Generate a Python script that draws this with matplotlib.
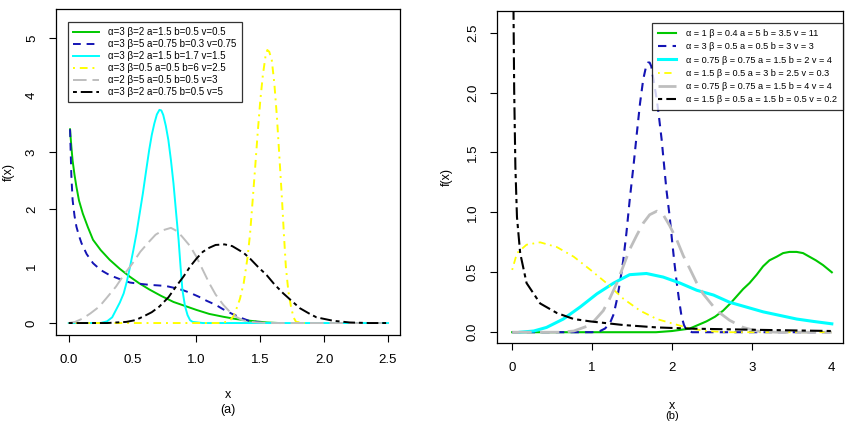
import matplotlib
matplotlib.use("Agg")
import matplotlib.pyplot as plt

plt.rcParams['font.family'] = ['Liberation Sans', 'DejaVu Sans']

# ---------------- Panel (a) data ----------------
a_green_x = [0.01, 0.02, 0.03, 0.045, 0.06, 0.08, 0.11, 0.15, 0.19, 0.25, 0.32, 0.40, 0.48, 0.55,
             0.63, 0.72, 0.82, 0.91, 1.00, 1.10, 1.21, 1.31, 1.42, 1.55, 1.65]
a_green_y = [3.40, 3.10, 2.85, 2.60, 2.39, 2.15, 1.92, 1.68, 1.46, 1.28, 1.11, 0.95, 0.81, 0.70,
             0.59, 0.48, 0.37, 0.30, 0.23, 0.16, 0.11, 0.07, 0.04, 0.01, 0.0]

a_blue_x = [0.01, 0.02, 0.03, 0.045, 0.06, 0.08, 0.10, 0.14, 0.19, 0.25, 0.32, 0.40, 0.48, 0.55,
            0.63, 0.70, 0.76, 0.82, 0.89, 0.95, 1.02, 1.08, 1.15, 1.21, 1.28, 1.35, 1.41, 1.47,
            1.52, 1.60]
a_blue_y = [3.40, 2.60, 2.16, 1.88, 1.69, 1.53, 1.40, 1.21, 1.05, 0.93, 0.84, 0.77, 0.71, 0.69,
            0.67, 0.66, 0.65, 0.62, 0.58, 0.53, 0.46, 0.39, 0.32, 0.24, 0.16, 0.09, 0.04, 0.02,
            0.0, 0.0]

a_cyan_x = [0.0, 0.25, 0.30, 0.34, 0.37, 0.40, 0.43, 0.455, 0.48, 0.505, 0.53, 0.555, 0.58, 0.605,
            0.63, 0.65, 0.67, 0.69, 0.71, 0.725, 0.74, 0.76, 0.78, 0.80, 0.82, 0.84, 0.86, 0.875,
            0.89, 0.91, 0.93, 0.95, 0.97, 1.05, 2.5]
a_cyan_y = [0.0, 0.0, 0.03, 0.10, 0.23, 0.36, 0.52, 0.73, 0.99, 1.27, 1.57, 1.92, 2.27, 2.66,
            3.04, 3.30, 3.50, 3.66, 3.74, 3.73, 3.65, 3.46, 3.21, 2.86, 2.45, 1.95, 1.46, 1.00,
            0.58, 0.30, 0.14, 0.05, 0.02, 0.0, 0.0]

a_yellow_x = [0.0, 1.20, 1.26, 1.29, 1.31, 1.34, 1.37, 1.40, 1.42, 1.44, 1.46, 1.48, 1.50, 1.52,
              1.54, 1.555, 1.57, 1.59, 1.61, 1.63, 1.65, 1.67, 1.685, 1.70, 1.72, 1.74, 1.76,
              1.78, 1.85]
a_yellow_y = [0.0, 0.0, 0.04, 0.12, 0.23, 0.42, 0.70, 1.15, 1.57, 2.15, 2.74, 3.35, 3.91, 4.35,
              4.67, 4.79, 4.76, 4.61, 4.20, 3.62, 2.90, 2.16, 1.55, 0.99, 0.55, 0.29, 0.10,
              0.02, 0.0]

a_gray_x = [0.0, 0.05, 0.11, 0.17, 0.24, 0.30, 0.37, 0.43, 0.50, 0.56, 0.63, 0.68, 0.74, 0.80,
            0.85, 0.89, 0.95, 1.00, 1.05, 1.10, 1.15, 1.21, 1.26, 1.31, 1.36, 1.42, 1.55, 2.5]
a_gray_y = [0.0, 0.02, 0.08, 0.17, 0.29, 0.45, 0.64, 0.84, 1.05, 1.25, 1.43, 1.55, 1.63, 1.67,
            1.61, 1.51, 1.35, 1.16, 0.93, 0.70, 0.50, 0.32, 0.20, 0.11, 0.05, 0.02, 0.0, 0.0]

a_black_x = [0.0, 0.30, 0.45, 0.52, 0.58, 0.65, 0.71, 0.78, 0.84, 0.90, 0.95, 1.00, 1.05, 1.10,
             1.15, 1.22, 1.28, 1.31, 1.37, 1.42, 1.48, 1.55, 1.61, 1.68, 1.75, 1.81, 1.88, 1.94,
             2.07, 2.20, 2.35, 2.5]
a_black_y = [0.0, 0.0, 0.02, 0.05, 0.11, 0.19, 0.29, 0.45, 0.64, 0.82, 0.99, 1.13, 1.25, 1.32,
             1.37, 1.38, 1.35, 1.31, 1.23, 1.13, 0.99, 0.84, 0.68, 0.52, 0.38, 0.26, 0.17, 0.10,
             0.04, 0.01, 0.0, 0.0]

a_labels = ["α=3 β=2 a=1.5 b=0.5 v=0.5",
            "α=3 β=5 a=0.75 b=0.3 v=0.75",
            "α=3 β=2 a=1.5 b=1.7 v=1.5",
            "α=3 β=0.5 a=0.5 b=6 v=2.5",
            "α=2 β=5 a=0.5 b=0.5 v=3",
            "α=3 β=2 a=0.75 b=0.5 v=5"]

a_xticks = [0.0, 0.5, 1.0, 1.5, 2.0, 2.5]
a_xticklabels = ["0.0", "0.5", "1.0", "1.5", "2.0", "2.5"]
a_yticks = [0, 1, 2, 3, 4, 5]
a_yticklabels = ["0", "1", "2", "3", "4", "5"]

# ---------------- Panel (b) data ----------------
b_green_x = [0.0, 1.80, 2.00, 2.22, 2.43, 2.54, 2.64, 2.73, 2.81, 2.89, 2.97, 3.06, 3.14, 3.22,
             3.31, 3.39, 3.47, 3.56, 3.64, 3.72, 3.80, 3.89, 4.0]
b_green_y = [0.0, 0.0, 0.01, 0.03, 0.09, 0.13, 0.18, 0.24, 0.30, 0.36, 0.41, 0.48, 0.55, 0.60,
             0.63, 0.66, 0.67, 0.67, 0.66, 0.63, 0.60, 0.56, 0.50]

b_blue_x = [0.0, 1.00, 1.10, 1.16, 1.22, 1.27, 1.31, 1.35, 1.39, 1.43, 1.47, 1.52, 1.56, 1.60,
            1.64, 1.67, 1.70, 1.72, 1.74, 1.77, 1.81, 1.84, 1.87, 1.90, 1.93, 1.97, 2.00, 2.03,
            2.06, 2.09, 2.12, 2.15, 2.18, 2.25, 4.0]
b_blue_y = [0.0, 0.0, 0.01, 0.03, 0.07, 0.15, 0.27, 0.42, 0.60, 0.83, 1.10, 1.40, 1.66, 1.91,
            2.11, 2.20, 2.25, 2.25, 2.22, 2.10, 1.94, 1.78, 1.61, 1.40, 1.19, 0.97, 0.77, 0.58,
            0.41, 0.26, 0.13, 0.06, 0.02, 0.0, 0.0]

b_cyan_x = [0.10, 0.27, 0.43, 0.64, 0.85, 1.06, 1.27, 1.47, 1.68, 1.89, 2.10, 2.31, 2.52, 2.72,
            2.93, 3.14, 3.35, 3.56, 3.77, 4.0]
b_cyan_y = [0.0, 0.01, 0.04, 0.11, 0.21, 0.32, 0.41, 0.48, 0.49, 0.46, 0.41, 0.35, 0.31, 0.25,
            0.21, 0.17, 0.14, 0.11, 0.09, 0.07]

b_yellow_x = [0.0, 0.06, 0.18, 0.35, 0.56, 0.77, 0.98, 1.18, 1.39, 1.60, 1.81, 2.02, 2.23, 2.43,
              2.70, 4.0]
b_yellow_y = [0.52, 0.66, 0.73, 0.75, 0.71, 0.63, 0.52, 0.41, 0.28, 0.18, 0.11, 0.07, 0.03, 0.01,
              0.0, 0.0]

b_gray_x = [0.0, 0.60, 0.77, 0.98, 1.14, 1.22, 1.31, 1.39, 1.47, 1.56, 1.64, 1.72, 1.81, 1.89,
            1.97, 2.06, 2.14, 2.23, 2.31, 2.39, 2.56, 2.72, 2.89, 3.06, 3.30, 4.0]
b_gray_y = [0.0, 0.0, 0.01, 0.06, 0.18, 0.28, 0.41, 0.55, 0.69, 0.81, 0.91, 0.98, 1.01, 0.98,
            0.89, 0.77, 0.64, 0.52, 0.41, 0.32, 0.18, 0.10, 0.04, 0.01, 0.0, 0.0]

b_black_x = [0.01, 0.025, 0.04, 0.06, 0.10, 0.18, 0.35, 0.56, 0.77, 0.98, 1.39, 1.81, 2.23, 3.06, 4.0]
b_black_y = [3.20, 2.02, 1.38, 0.96, 0.66, 0.41, 0.24, 0.16, 0.11, 0.09, 0.06, 0.04, 0.03, 0.02, 0.01]

b_labels = ["α = 1 β = 0.4 a = 5 b = 3.5 v = 11",
            "α = 3 β = 0.5 a = 0.5 b = 3 v = 3",
            "α = 0.75 β = 0.75 a = 1.5 b = 2 v = 4",
            "α = 1.5 β = 0.5 a = 3 b = 2.5 v = 0.3",
            "α = 0.75 β = 0.75 a = 1.5 b = 4 v = 4",
            "α = 1.5 β = 0.5 a = 1.5 b = 0.5 v = 0.2"]

b_xticks = [0, 1, 2, 3, 4]
b_xticklabels = ["0", "1", "2", "3", "4"]
b_yticks = [0.0, 0.5, 1.0, 1.5, 2.0, 2.5]
b_yticklabels = ["0.0", "0.5", "1.0", "1.5", "2.0", "2.5"]

# ---------------- styles ----------------
GREEN = "#00C800"
BLUE = "#1414B4"
CYAN = "#00FFFF"
YELLOW = "#FFFF00"
GRAY = "#BEBEBE"
BLACK = "#000000"

W, H = 848, 422
fig = plt.figure(figsize=(W / 100, H / 100), dpi=100)


def ax_rect(x0, y0, x1, y1):
    return [x0 / W, 1 - y1 / H, (x1 - x0) / W, (y1 - y0) / H]


def style_axes(ax):
    for s in ax.spines.values():
        s.set_linewidth(0.9)
        s.set_color("black")
    ax.tick_params(direction="out", length=5, width=0.8, colors="black", labelsize=9.5)
    ax.tick_params(axis="x", pad=9)
    ax.tick_params(axis="y", pad=8)
    for lab in ax.get_yticklabels():
        lab.set_rotation(90)
        lab.set_va("center")


# ---- Panel (a)
ax1 = fig.add_axes(ax_rect(56, 9, 400, 335))
lw = 1.4
ax1.plot(a_green_x, a_green_y, color=GREEN, lw=lw, label=a_labels[0])
ax1.plot(a_blue_x, a_blue_y, color=BLUE, lw=lw, dashes=(4, 3), label=a_labels[1])
ax1.plot(a_cyan_x, a_cyan_y, color=CYAN, lw=lw, label=a_labels[2])
ax1.plot(a_yellow_x, a_yellow_y, color=YELLOW, lw=lw, dashes=(1, 2.5, 4, 2.5), label=a_labels[3])
ax1.plot(a_gray_x, a_gray_y, color=GRAY, lw=lw, dashes=(7, 3), label=a_labels[4])
ax1.plot(a_black_x, a_black_y, color=BLACK, lw=lw, dashes=(2, 2, 6, 2), label=a_labels[5])
ax1.set_xlim(-0.10, 2.594)
ax1.set_ylim(-0.21, 5.51)
ax1.set_xticks(a_xticks)
ax1.set_xticklabels(a_xticklabels)
ax1.set_yticks(a_yticks)
ax1.set_yticklabels(a_yticklabels)
style_axes(ax1)
for i, t in enumerate(ax1.yaxis.get_major_ticks()):
    if i in (1, 4):
        t.tick1line.set_visible(False)
for i, t in enumerate(ax1.xaxis.get_major_ticks()):
    if i == 1:
        t.tick1line.set_visible(False)
ax1.set_ylabel("f(x)", fontsize=9, labelpad=8)
leg1 = ax1.legend(loc="upper left", bbox_to_anchor=(0.035, 0.96), borderaxespad=0,
                  fontsize=7, frameon=True, fancybox=False, edgecolor="black",
                  handlelength=2.6, labelspacing=0.2, borderpad=0.55, handletextpad=1.0)
leg1.get_frame().set_linewidth(0.9)
fig.text(228 / W, 1 - 395 / H, "x", ha="center", va="center", fontsize=9)
fig.text(228 / W, 1 - 410 / H, "(a)", ha="center", va="center", fontsize=9)

# ---- Panel (b)
ax2 = fig.add_axes(ax_rect(497, 11, 843, 343))
ax2.plot(b_green_x, b_green_y, color=GREEN, lw=1.5, label=b_labels[0])
ax2.plot(b_blue_x, b_blue_y, color=BLUE, lw=1.5, dashes=(4, 3), label=b_labels[1])
ax2.plot(b_cyan_x, b_cyan_y, color=CYAN, lw=2.2, label=b_labels[2])
ax2.plot(b_yellow_x, b_yellow_y, color=YELLOW, lw=1.3, dashes=(1, 2.5, 4, 2.5), label=b_labels[3])
ax2.plot(b_gray_x, b_gray_y, color=GRAY, lw=2.0, dashes=(7, 3), label=b_labels[4])
ax2.plot(b_black_x, b_black_y, color=BLACK, lw=1.5, dashes=(2, 2, 6, 2), label=b_labels[5])
ax2.set_xlim(-0.19, 4.14)
ax2.set_ylim(-0.09, 2.68)
ax2.set_xticks(b_xticks)
ax2.set_xticklabels(b_xticklabels)
ax2.set_yticks(b_yticks)
ax2.set_yticklabels(b_yticklabels)
style_axes(ax2)
for i, t in enumerate(ax2.xaxis.get_major_ticks()):
    if i == 4:
        t.tick1line.set_visible(False)
ax2.set_ylabel("f(x)", fontsize=9, labelpad=10)
leg2 = ax2.legend(loc="upper right", bbox_to_anchor=(1.0, 0.964), borderaxespad=0,
                  fontsize=6.6, frameon=True, fancybox=False, edgecolor="black",
                  handlelength=2.0, labelspacing=0.45, borderpad=0.7, handletextpad=1.0)
leg2.get_frame().set_linewidth(0.9)
fig.text(672 / W, 1 - 406 / H, "x", ha="center", va="center", fontsize=9)
fig.text(672 / W, 1 - 416 / H, "(b)", ha="center", va="center", fontsize=8)

fig.savefig("out.png", dpi=100)
